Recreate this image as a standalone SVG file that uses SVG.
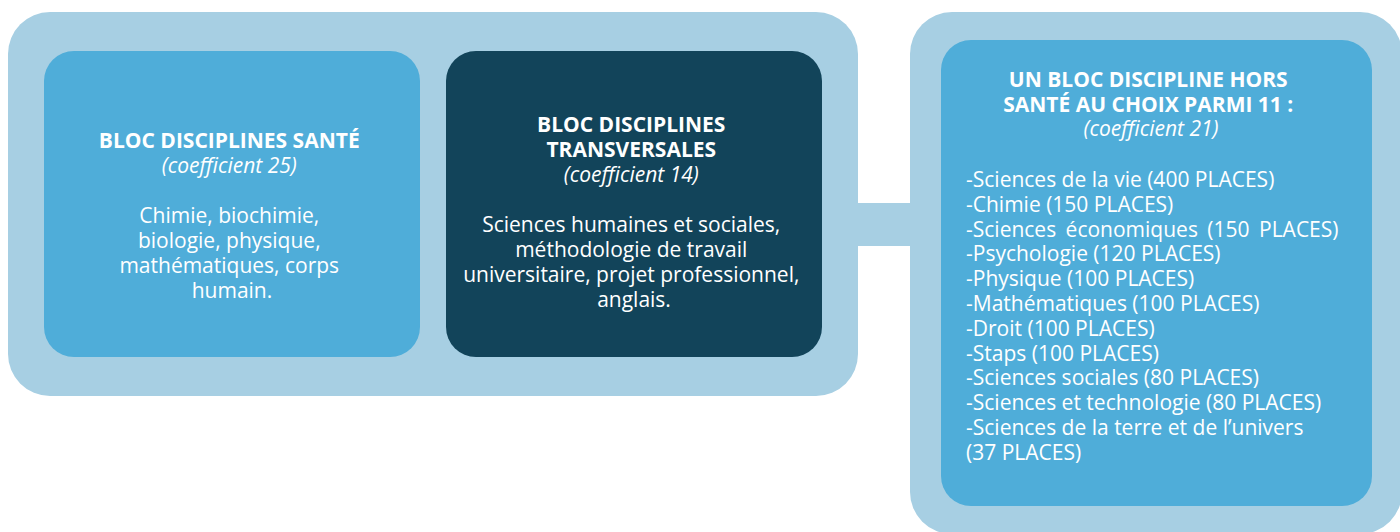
<svg xmlns="http://www.w3.org/2000/svg" width="1400" height="532" viewBox="0 0 1400 532">
  <style>
    .outer { fill: #a7cfe3; }
    .light { fill: #4fadd9; }
    .dark { fill: #12445a; }
    text { font-family: "Open Sans", "Noto Sans", "DejaVu Sans", sans-serif; font-size: 21px; fill: #ffffff; }
    .b { font-weight: 700; }
    .i { font-style: italic; }
    .c { text-anchor: middle; }
  </style>
  <rect width="1400" height="532" fill="#ffffff"/>
  <g id="connectors">
    <rect class="outer" x="850" y="203" width="70" height="43"/>
  </g>
  <g id="group-left">
    <rect class="outer" x="8" y="12" width="850" height="384" rx="42" ry="42"/>
  </g>
  <g id="group-right">
    <rect class="outer" x="910" y="12" width="492" height="522" rx="42" ry="42"/>
  </g>
  <g id="node-sante">
    <rect class="light" x="44" y="51" width="376" height="306" rx="30" ry="30"/>
    <text class="c" x="232">
      <tspan class="b" x="232" y="148">BLOC DISCIPLINES SANTÉ</tspan>
      <tspan class="i" x="232" y="173">(coefficient 25)</tspan>
      <tspan x="232" y="223">Chimie, biochimie,</tspan>
      <tspan x="232" y="248">biologie, physique,</tspan>
      <tspan x="232" y="273">mathématiques, corps</tspan>
      <tspan x="232" y="298">humain.</tspan>
    </text>
  </g>
  <g id="node-transversales">
    <rect class="dark" x="446" y="51" width="376" height="306" rx="30" ry="30"/>
    <text class="c" x="634">
      <tspan class="b" x="634" y="132">BLOC DISCIPLINES</tspan>
      <tspan class="b" x="634" y="157">TRANSVERSALES</tspan>
      <tspan class="i" x="634" y="182">(coefficient 14)</tspan>
      <tspan x="634" y="232">Sciences humaines et sociales,</tspan>
      <tspan x="634" y="257">méthodologie de travail</tspan>
      <tspan x="634" y="282">universitaire, projet professionnel,</tspan>
      <tspan x="634" y="307">anglais.</tspan>
    </text>
  </g>
  <g id="node-hors-sante">
    <rect class="light" x="941" y="40" width="431" height="466" rx="30" ry="30"/>
    <text class="c" x="1151">
      <tspan class="b" x="1151" y="87">UN BLOC DISCIPLINE HORS</tspan>
      <tspan class="b" x="1151" y="112">SANTÉ AU CHOIX PARMI 11 :</tspan>
      <tspan class="i" x="1151" y="136">(coefficient 21)</tspan>
    </text>
    <text x="966">
      <tspan x="966" y="187">-Sciences de la vie (400 PLACES)</tspan>
      <tspan x="966" y="211.8">-Chimie (150 PLACES)</tspan>
      <tspan x="966" y="236.6" word-spacing="4">-Sciences économiques (150 PLACES)</tspan>
      <tspan x="966" y="261.4">-Psychologie (120 PLACES)</tspan>
      <tspan x="966" y="286.2">-Physique (100 PLACES)</tspan>
      <tspan x="966" y="311">-Mathématiques (100 PLACES)</tspan>
      <tspan x="966" y="335.8">-Droit (100 PLACES)</tspan>
      <tspan x="966" y="360.6">-Staps (100 PLACES)</tspan>
      <tspan x="966" y="385.4">-Sciences sociales (80 PLACES)</tspan>
      <tspan x="966" y="410.2">-Sciences et technologie (80 PLACES)</tspan>
      <tspan x="966" y="435">-Sciences de la terre et de l’univers</tspan>
      <tspan x="966" y="459.8">(37 PLACES)</tspan>
    </text>
  </g>
</svg>
